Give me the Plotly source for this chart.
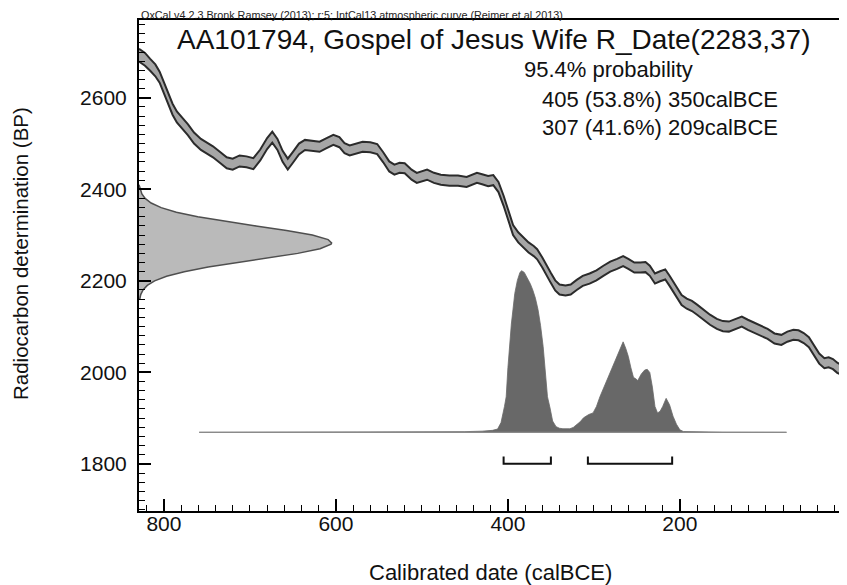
import plotly.graph_objects as go

# ---------------- data ----------------
# IntCal13 curve: calendar year BCE, 14C age BP, half band width
cal_year = [829, 822, 816, 810, 805, 800, 795, 790, 785, 779,
            772, 765, 757, 750, 743, 735, 727, 720, 712, 704,
            696, 688, 680, 674, 668, 662, 656, 650, 643, 636,
            628, 619, 612, 603, 596, 590, 584, 576, 569, 560,
            552, 545, 538, 532, 526, 520, 512, 506, 499, 494,
            486, 478, 468, 458, 448, 442, 436, 430, 423, 417,
            411, 405, 400, 394, 388, 382, 376, 370, 366, 360,
            355, 350, 345, 340, 333, 327, 320, 313, 305, 297,
            289, 281, 273, 266, 260, 253, 246, 240, 235, 229,
            223, 217, 212, 205, 198, 192, 186, 180, 172, 165,
            157, 150, 143, 135, 128, 121, 113, 105, 98, 90,
            82, 75, 68, 62, 56, 50, 44, 38, 32, 27,
            22, 17, 13, 10, 8]
c14_bp = [2693, 2684, 2672, 2660, 2645, 2622, 2598, 2575, 2558, 2545,
          2530, 2512, 2498, 2490, 2482, 2470, 2458, 2455, 2462, 2460,
          2456, 2475, 2500, 2514, 2498, 2472, 2455, 2470, 2488, 2497,
          2495, 2493, 2500, 2508, 2503, 2490, 2485, 2490, 2493, 2492,
          2488, 2470, 2450, 2443, 2447, 2446, 2432, 2425, 2430, 2432,
          2425, 2421, 2419, 2419, 2416, 2420, 2425, 2422, 2418, 2420,
          2405, 2375, 2345, 2311, 2295, 2283, 2273, 2265, 2258, 2240,
          2222, 2206, 2190, 2181, 2179, 2181, 2191, 2200, 2205, 2212,
          2222, 2231, 2237, 2243, 2237, 2229, 2229, 2230, 2222, 2205,
          2210, 2214, 2200, 2178, 2158, 2150, 2145, 2137, 2125, 2115,
          2106, 2101, 2100, 2106, 2111, 2104, 2097, 2090, 2084, 2074,
          2071, 2078, 2082, 2081, 2075, 2066, 2048, 2030, 2020, 2022,
          2018, 2010, 2006, 2015, 2024]
c14_sigma = [14, 14, 13, 13, 12, 12, 12, 12, 12, 12,
             12, 12, 12, 12, 12, 12, 12, 12, 12, 12,
             12, 12, 12, 12, 12, 12, 12, 12, 12, 11,
             11, 11, 11, 11, 11, 11, 11, 11, 11, 11,
             11, 11, 11, 11, 11, 11, 11, 11, 11, 11,
             11, 11, 11, 11, 11, 11, 11, 11, 11, 11,
             11, 11, 11, 11, 11, 11, 11, 11, 11, 11,
             11, 11, 11, 11, 11, 11, 11, 11, 11, 11,
             11, 11, 11, 11, 11, 11, 11, 11, 11, 11,
             11, 11, 11, 11, 11, 11, 11, 11, 11, 11,
             11, 11, 11, 11, 11, 11, 11, 11, 11, 11,
             11, 11, 11, 11, 11, 11, 11, 11, 11, 11,
             11, 11, 11, 11, 11]

# Radiocarbon measurement R_Date(2283,37): BP values and relative density
rdate_bp = [2160, 2170, 2180, 2190, 2200, 2210, 2220, 2230, 2240, 2250,
            2260, 2270, 2280, 2283, 2290, 2300, 2310, 2320, 2330, 2340,
            2350, 2360, 2370, 2380, 2390, 2400, 2410]
rdate_density = [0.004, 0.009, 0.021, 0.043, 0.081, 0.143, 0.235, 0.359, 0.509, 0.672,
                 0.824, 0.940, 0.997, 1.0, 0.982, 0.900, 0.766, 0.607, 0.446, 0.305,
                 0.194, 0.115, 0.063, 0.032, 0.015, 0.007, 0.003]

# Calibrated posterior: calendar year BCE and relative probability
post_year = [759, 700, 600, 500, 450, 430, 418, 412, 408, 404,
             402, 400, 396, 392, 389, 386, 384, 381, 378, 374,
             371, 368, 365, 362, 359, 357, 354, 351, 348, 344,
             340, 336, 328, 324, 320, 316, 312, 306, 301, 297,
             293, 289, 285, 281, 276, 271, 266, 263, 260, 257,
             254, 251, 249, 245, 241, 238, 235, 232, 229, 226,
             223, 220, 216, 212, 208, 204, 200, 196, 180, 150, 76]
post_prob = [0.0, 0.0, 0.0, 0.002, 0.004, 0.007, 0.012, 0.02, 0.06, 0.16,
             0.22, 0.40, 0.67, 0.86, 0.94, 0.99, 1.0, 0.99, 0.96, 0.92,
             0.88, 0.83, 0.76, 0.66, 0.53, 0.41, 0.22, 0.15, 0.07, 0.035,
             0.025, 0.022, 0.022, 0.03, 0.045, 0.065, 0.09, 0.11, 0.12, 0.16,
             0.22, 0.27, 0.32, 0.38, 0.44, 0.50, 0.56, 0.52, 0.47, 0.40,
             0.34, 0.33, 0.32, 0.36, 0.385, 0.39, 0.37, 0.28, 0.16, 0.12,
             0.13, 0.16, 0.21, 0.17, 0.10, 0.05, 0.015, 0.005, 0.002, 0.0005, 0.0]

# 95.4% ranges
range_start = [405, 307]
range_end = [350, 209]
range_pct = [53.8, 41.6]

header_text = "OxCal v4.2.3 Bronk Ramsey (2013); r:5; IntCal13 atmospheric curve (Reimer et al 2013)"
title_text = "AA101794, Gospel of Jesus Wife R_Date(2283,37)"
prob_text = "95.4% probability"
x_title = "Calibrated date (calBCE)"
y_title = "Radiocarbon determination (BP)"

# ---------------- layout constants ----------------
X_RANGE = [829, 8]
Y_RANGE = [1697, 2770]
GAUSS_LEN = 224        # calendar-years length of the measurement peak
POST_BASE = 1869       # BP level of posterior baseline
POST_HEIGHT = 353      # BP-units height of posterior peak
BRACKET_Y = 1800
BRACKET_TICK = 16

FONT = "Liberation Sans, Arial, Helvetica, sans-serif"
PAGE_OFF = 8                     # browser body margin
FIG_W, FIG_H = 847 - PAGE_OFF, 585 - PAGE_OFF
# plot area in page pixels
L, R, T, B = 139, 845, 20, 511


def px(x):
    return (x - L) / (R - L)


def py(y):
    return (B - y) / (B - T)


fig = go.Figure()

# calibration curve band
upper = [m + s for m, s in zip(c14_bp, c14_sigma)]
lower = [m - s for m, s in zip(c14_bp, c14_sigma)]
fig.add_trace(go.Scatter(x=cal_year, y=upper, mode="lines",
                         line=dict(color="#2b2b2b", width=2), hoverinfo="skip"))
fig.add_trace(go.Scatter(x=cal_year, y=lower, mode="lines", fill="tonexty",
                         fillcolor="#a6a6a6",
                         line=dict(color="#2b2b2b", width=2), hoverinfo="skip"))

# measurement distribution on the y axis
gx = [X_RANGE[0]] + [X_RANGE[0] - d * GAUSS_LEN for d in rdate_density] + [X_RANGE[0]]
gy = [rdate_bp[0]] + rdate_bp + [rdate_bp[-1]]
fig.add_trace(go.Scatter(x=gx, y=gy, mode="lines", fill="toself",
                         fillcolor="#bababa",
                         line=dict(color="#4f4f4f", width=1.5), hoverinfo="skip"))

# posterior
fig.add_trace(go.Scatter(x=post_year, y=[POST_BASE + p * POST_HEIGHT for p in post_prob],
                         mode="lines", fill="toself", fillcolor="#686868",
                         line=dict(color="#686868", width=0.8), hoverinfo="skip"))
fig.add_trace(go.Scatter(x=[post_year[0], post_year[-1]], y=[POST_BASE, POST_BASE],
                         mode="lines", line=dict(color="#8a8a8a", width=1.2),
                         hoverinfo="skip"))

# range brackets
bx, by = [], []
for a, b in zip(range_start, range_end):
    bx += [a, a, b, b, None]
    by += [BRACKET_Y + BRACKET_TICK, BRACKET_Y, BRACKET_Y, BRACKET_Y + BRACKET_TICK, None]
fig.add_trace(go.Scatter(x=bx, y=by, mode="lines",
                         line=dict(color="#111111", width=2), hoverinfo="skip"))

annotations = [
    dict(text=header_text, x=px(140), y=py(15), xanchor="left", yanchor="middle",
         font=dict(size=10.8, color="#222")),
    dict(text=title_text, x=px(493), y=py(40), xanchor="center", yanchor="middle",
         font=dict(size=28, color="#111")),
    dict(text=prob_text, x=px(523), y=py(69), xanchor="left", yanchor="middle",
         font=dict(size=22, color="#111")),
]
for i, (a, b, p) in enumerate(zip(range_start, range_end, range_pct)):
    annotations.append(dict(text=f"{a} ({p}%) {b}calBCE", x=px(779), y=py(99 + 28 * i),
                            xanchor="right", yanchor="middle",
                            font=dict(size=22, color="#111")))
annotations.append(dict(text=x_title, x=px(490), y=py(572), xanchor="center",
                        yanchor="middle", font=dict(size=22, color="#111")))
annotations.append(dict(text=y_title, x=px(20), y=py(254), xanchor="center",
                        yanchor="middle", textangle=-90, font=dict(size=20.5, color="#111")))
for a in annotations:
    a.update(xref="paper", yref="paper", showarrow=False, borderpad=0)

axis_common = dict(
    ticks="inside", ticklen=12, tickwidth=2, tickcolor="black",
    showline=True, linewidth=2, linecolor="black", mirror=True,
    showgrid=False, zeroline=False, automargin=False,
    tickmode="linear", tick0=0, dtick=200,
    tickfont=dict(size=21, color="#111", family=FONT),
    minor=dict(tickmode="linear", tick0=0, dtick=20, ticks="inside", ticklen=6,
               tickwidth=1.3, tickcolor="black", showgrid=False),
)

fig.update_layout(
    width=FIG_W, height=FIG_H,
    margin=dict(l=L - PAGE_OFF, r=847 - R, t=T - PAGE_OFF, b=585 - B),
    paper_bgcolor="white", plot_bgcolor="white",
    showlegend=False,
    font=dict(family=FONT, color="#111"),
    xaxis=dict(range=X_RANGE, ticklabelstandoff=-7, **axis_common),
    yaxis=dict(range=Y_RANGE, ticklabelstandoff=6, **axis_common),
    annotations=annotations,
)

fig.write_html("out.html")
